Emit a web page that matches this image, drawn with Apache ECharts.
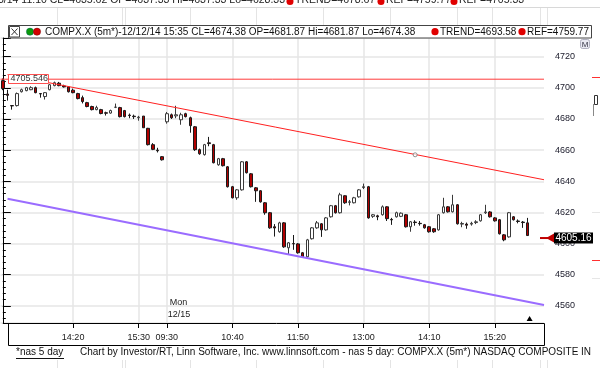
<!DOCTYPE html>
<html><head><meta charset="utf-8">
<script src="https://cdn.jsdelivr.net/npm/echarts@6/dist/echarts.min.js"></script>
<style>html,body{margin:0;padding:0;background:#fff;overflow:hidden}#c{width:600px;height:368px}</style>
</head><body><div id="c"></div>
<script>
// ---------- DATA ----------
const FONT = '"Liberation Sans", Arial, sans-serif';
function sessionTimes(day, h0, m0, h1, m1) {
  const out = [];
  for (let t = h0 * 60 + m0; t <= h1 * 60 + m1; t += 5) {
    const h = Math.floor(t / 60), m = t % 60;
    out.push(day + ' ' + String(h).padStart(2, '0') + ':' + String(m).padStart(2, '0'));
  }
  return out;
}
const day1Times = sessionTimes('12/12', 13, 5, 15, 55);
const day2Times = sessionTimes('12/15', 9, 30, 15, 55);
const padSlots = ['pad1', 'pad2', 'pad3'];
const categories = day1Times.concat(day2Times, padSlots);
const tickLabels = ['12/12 14:20', '12/12 15:30', '12/15 09:30', '12/15 10:40', '12/15 11:50', '12/15 13:00', '12/15 14:10', '12/15 15:20'];
// [open, close, low, high]
const day1Bars = [
  [4704.6, 4699.5, 4698.5, 4706.0], [4696.0, 4695.2, 4691.8, 4698.8], [4688.6, 4688.4, 4686.0, 4688.8],
  [4688.6, 4696.3, 4688.0, 4697.0], [4697.5, 4698.8, 4697.0, 4699.5], [4698.2, 4700.1, 4697.8, 4700.6],
  [4698.8, 4700.1, 4698.5, 4701.0], [4700.1, 4696.9, 4696.5, 4700.8], [4696.3, 4696.1, 4693.7, 4696.5],
  [4694.4, 4696.9, 4692.5, 4697.3], [4698.8, 4702.0, 4698.4, 4702.5], [4701.4, 4703.3, 4701.0, 4704.0],
  [4703.0, 4701.4, 4701.0, 4703.8], [4701.2, 4700.6, 4700.2, 4702.0], [4700.6, 4697.5, 4697.0, 4701.0],
  [4698.5, 4696.9, 4696.5, 4699.5], [4696.3, 4693.1, 4692.6, 4696.8], [4693.7, 4691.2, 4690.0, 4695.0],
  [4690.5, 4688.0, 4687.5, 4691.0], [4688.0, 4686.0, 4685.5, 4688.5], [4686.0, 4687.3, 4685.6, 4688.5],
  [4686.0, 4683.5, 4683.0, 4686.5], [4684.0, 4683.7, 4682.2, 4684.7], [4683.8, 4685.4, 4683.4, 4686.0],
  [4687.5, 4687.6, 4687.0, 4689.9], [4687.3, 4681.5, 4681.0, 4687.8], [4685.4, 4681.5, 4681.0, 4685.8],
  [4682.5, 4682.2, 4680.5, 4683.5], [4681.8, 4681.5, 4680.0, 4682.8], [4680.8, 4681.2, 4678.9, 4682.0],
  [4681.87, 4674.38, 4674.38, 4681.87], [4674.0, 4663.5, 4663.0, 4674.3], [4663.5, 4660.5, 4660.0, 4664.5],
  [4660.0, 4659.6, 4658.5, 4661.5], [4655.8, 4653.8, 4653.3, 4656.2]
];
const day2Bars = [
  [4678.2, 4683.4, 4677.0, 4684.5], [4682.7, 4680.8, 4680.0, 4683.5], [4682.0, 4682.7, 4680.5, 4688.5],
  [4679.5, 4682.7, 4676.3, 4684.0], [4683.4, 4681.5, 4681.0, 4684.0], [4680.8, 4675.7, 4671.2, 4681.5],
  [4675.0, 4660.3, 4659.5, 4675.5], [4660.3, 4657.7, 4657.0, 4661.0], [4657.1, 4663.5, 4656.5, 4664.0],
  [4664.7, 4664.2, 4662.5, 4668.5], [4663.5, 4651.9, 4651.5, 4664.0], [4650.6, 4654.5, 4650.0, 4655.0],
  [4654.5, 4650.0, 4649.5, 4655.0], [4649.3, 4636.5, 4636.0, 4649.8], [4636.5, 4629.4, 4629.0, 4637.0],
  [4629.4, 4634.5, 4628.1, 4635.0], [4634.5, 4652.5, 4634.0, 4653.0], [4652.5, 4645.5, 4645.0, 4653.0],
  [4644.8, 4636.5, 4636.0, 4645.3], [4635.8, 4633.9, 4626.8, 4636.3], [4633.9, 4626.8, 4626.3, 4634.3],
  [4626.2, 4619.8, 4618.5, 4626.7], [4619.8, 4610.1, 4609.5, 4620.3], [4610.8, 4610.0, 4604.5, 4612.5],
  [4607.6, 4613.3, 4607.0, 4614.0], [4613.3, 4597.9, 4597.3, 4613.8], [4597.3, 4600.5, 4592.8, 4601.0],
  [4600.0, 4599.8, 4596.0, 4605.5], [4599.8, 4594.1, 4593.5, 4600.3], [4594.1, 4591.5, 4591.0, 4594.6],
  [4591.5, 4602.4, 4591.0, 4603.0], [4603.1, 4610.1, 4602.6, 4610.6], [4610.1, 4613.3, 4609.5, 4614.5],
  [4612.7, 4608.8, 4604.3, 4613.2], [4608.8, 4616.5, 4608.3, 4617.0], [4617.2, 4624.3, 4616.7, 4624.8],
  [4624.3, 4619.8, 4619.3, 4624.8], [4619.8, 4631.3, 4619.3, 4632.6], [4630.7, 4626.2, 4625.5, 4631.0],
  [4626.5, 4626.8, 4624.5, 4628.0], [4626.2, 4629.4, 4625.8, 4630.0], [4630.0, 4634.5, 4629.5, 4635.0],
  [4636.0, 4636.5, 4635.0, 4638.5], [4636.5, 4616.5, 4616.0, 4637.0], [4617.5, 4618.5, 4616.5, 4619.0],
  [4617.8, 4617.2, 4615.0, 4618.5], [4618.5, 4623.6, 4618.0, 4624.5], [4623.6, 4616.0, 4614.5, 4624.0],
  [4615.5, 4615.2, 4612.0, 4616.5], [4617.2, 4619.8, 4616.7, 4620.5], [4617.5, 4619.5, 4617.0, 4620.0],
  [4618.5, 4610.8, 4610.3, 4619.0], [4610.8, 4614.0, 4607.6, 4614.5], [4613.8, 4613.5, 4611.5, 4615.0],
  [4613.0, 4612.8, 4611.5, 4614.5], [4612.1, 4610.1, 4609.6, 4612.6], [4610.8, 4607.6, 4607.0, 4611.3],
  [4609.5, 4607.6, 4606.9, 4610.0], [4608.8, 4618.5, 4608.3, 4619.0], [4619.8, 4623.6, 4619.3, 4629.4],
  [4623.6, 4620.4, 4619.9, 4624.1], [4620.4, 4624.9, 4620.0, 4631.3], [4624.9, 4612.7, 4612.2, 4625.4],
  [4612.5, 4612.9, 4610.5, 4614.0], [4612.5, 4611.8, 4609.5, 4613.5], [4612.5, 4613.0, 4611.5, 4614.0],
  [4613.5, 4614.0, 4612.5, 4615.0], [4614.6, 4618.5, 4614.1, 4619.0], [4619.8, 4620.3, 4619.0, 4624.9],
  [4620.3, 4617.2, 4616.7, 4620.8], [4616.5, 4614.6, 4614.1, 4617.0], [4615.3, 4606.3, 4605.8, 4615.8],
  [4605.6, 4602.4, 4601.5, 4606.1], [4604.3, 4619.8, 4603.8, 4620.3], [4617.2, 4615.3, 4614.8, 4617.7],
  [4614.5, 4614.2, 4613.0, 4615.5], [4613.8, 4613.5, 4610.1, 4614.5], [4613.3, 4605.16, 4605.0, 4616.5]
];
const bars = day1Bars.concat(day2Bars);
const lastClose = 4605.16;
const refLevel = 4705.546;
// channel lines: [bar index, price]
const trendLine = [[1, 4708.5], [115.5, 4641.0]];
const lowerLine = [[1, 4628.8], [115.5, 4560.5]];
const trendMarker = [[88, 4657.0]];
const yMin = 4549, yMax = 4732;
const headerMain = 'COMPX.X (5m*)-12/12/14 15:35 CL=4674.38 OP=4681.87 Hi=4681.87 Lo=4674.38';
const headerTrend = 'TREND=4693.58';
const headerRef = 'REF=4759.77';
const bgHeader = '3/14 11:10 CL=4635.62 OP=4637.33 Hi=4637.33 Lo=4628.33';
const bgTrend = 'TREND=4678.67', bgRef1 = 'REF=4759.77', bgRef2 = 'REF=4705.33';
const footerLink = '*nas 5 day';
const footerText = 'Chart by Investor/RT, Linn Software, Inc. www.linnsoft.com - nas 5 day: COMPX.X (5m*) NASDAQ COMPOSITE IN';

// ---------- CHART ----------
const chart = echarts.init(document.getElementById('c'), null, { renderer: 'canvas' });
const showTick = (idx, val) => tickLabels.indexOf(val) >= 0;
const GL = 0.5, GR = 544;
const xEnd = categories.length - 0.5;

const option = {
  animation: false,
  backgroundColor: '#fff',
  textStyle: { fontFamily: FONT },
  grid: { left: GL, right: 600 - GR, top: 38, bottom: 368 - 323, containLabel: false },
  xAxis: [{
    type: 'category', data: categories, boundaryGap: true,
    axisLine: { show: false },
    axisTick: { show: true, interval: showTick, alignWithLabel: true, length: 5, lineStyle: { color: '#000' } },
    axisLabel: { interval: showTick, formatter: v => v.slice(6), color: '#1a1a1a', fontSize: 9, fontFamily: FONT, margin: 10 },
    splitLine: { show: false }
  }, {
    type: 'value', min: -0.5, max: xEnd, show: false
  }],
  yAxis: {
    type: 'value', position: 'right', min: yMin, max: yMax, splitNumber: 9, minInterval: 20, maxInterval: 20,
    axisLine: { show: true, lineStyle: { color: '#000', width: 1 } },
    axisTick: { show: true, length: 8, lineStyle: { color: '#000' } },
    minorTick: { show: true, splitNumber: 5, length: 3, lineStyle: { color: '#000' } },
    axisLabel: { color: '#1a1a2a', fontSize: 9, fontFamily: FONT, margin: 11, showMinLabel: false, showMaxLabel: false,
      formatter: v => (Math.abs(v % 20) < 1e-6 ? String(v) : '') },
    splitLine: { show: true, lineStyle: { color: '#e6e6e6', width: 1.5 } }
  },
  series: [{
    type: 'candlestick', name: 'COMPX.X', data: bars, xAxisIndex: 0, yAxisIndex: 0, z: 3,
    barWidth: 3,
    itemStyle: { color: '#ffffff', color0: '#b00000', borderColor: '#3a3a3a', borderColor0: '#1a1a1a', borderWidth: 1 },
    markLine: {
      silent: true, symbol: 'none', z: 1, animation: false,
      label: { show: false },
      lineStyle: { color: '#e6e6e6', width: 1.5, type: 'solid' },
      data: tickLabels.map(t => ({ xAxis: t }))
    }
  }, {
    type: 'line', name: 'REF', xAxisIndex: 1, yAxisIndex: 0, z: 4, showSymbol: false,
    data: [[-0.5, refLevel], [xEnd, refLevel]],
    lineStyle: { color: '#ff3a3a', width: 1 }
  }, {
    type: 'line', name: 'TREND', xAxisIndex: 1, yAxisIndex: 0, z: 4, data: trendLine, showSymbol: false,
    lineStyle: { color: '#ff2020', width: 1 }
  }, {
    type: 'line', name: 'LOWER', xAxisIndex: 1, yAxisIndex: 0, z: 4, data: lowerLine, showSymbol: false,
    lineStyle: { color: '#9a6cff', width: 2 }
  }, {
    type: 'scatter', name: 'marker', xAxisIndex: 1, yAxisIndex: 0, z: 5, data: trendMarker, symbol: 'circle', symbolSize: 4,
    itemStyle: { color: '#ffffff', borderColor: '#777', borderWidth: 1 }
  }]
};
chart.setOption(option);

// ---------- DECORATIONS ----------
const g = [];
const F = (s) => s + 'px ' + FONT;
// background window strip above / below
const bgV = [57, 122, 125, 190, 256, 323, 390, 457, 492, 540, 547];
bgV.forEach(x => {
  g.push({ type: 'line', shape: { x1: x + 0.5, y1: 7, x2: x + 0.5, y2: 25 }, style: { stroke: '#e4e4e4', lineWidth: 1 }, silent: true });
  g.push({ type: 'line', shape: { x1: x + 0.5, y1: 360, x2: x + 0.5, y2: 368 }, style: { stroke: '#e4e4e4', lineWidth: 1 }, silent: true });
});
g.push({ type: 'line', shape: { x1: 0, y1: 7.5, x2: 600, y2: 7.5 }, style: { stroke: '#d8d8d8', lineWidth: 1 } });
g.push({ type: 'text', x: -2, y: 5.5, style: { text: bgHeader, font: F(10.5), fill: '#222', verticalAlign: 'bottom' } });
[[290, bgTrend, 295], [381, bgRef1, 386], [454, bgRef2, 459]].forEach(([dx, t, tx]) => {
  g.push({ type: 'circle', shape: { cx: dx, cy: 1.5, r: 3.5 }, style: { fill: '#e00000' } });
  g.push({ type: 'text', x: tx, y: 5.5, style: { text: t, font: F(10.5), fill: '#222', verticalAlign: 'bottom' } });
});
// title box
g.push({ type: 'rect', shape: { x: 8.5, y: 25.5, width: 583, height: 12.5 }, style: { fill: '#fff', stroke: '#444', lineWidth: 1 }, z: 10 });
g.push({ type: 'rect', shape: { x: 9.5, y: 26.5, width: 10, height: 10.5 }, style: { fill: '#fff', stroke: '#444', lineWidth: 1 }, z: 11 });
g.push({ type: 'line', shape: { x1: 11.5, y1: 28.5, x2: 17.5, y2: 35 }, style: { stroke: '#333', lineWidth: 1 }, z: 11 });
g.push({ type: 'line', shape: { x1: 17.5, y1: 28.5, x2: 11.5, y2: 35 }, style: { stroke: '#333', lineWidth: 1 }, z: 11 });
g.push({ type: 'circle', shape: { cx: 30, cy: 31.7, r: 3.6 }, style: { fill: '#0a9a0a', stroke: '#065', lineWidth: 0.5 }, z: 11 });
g.push({ type: 'circle', shape: { cx: 37, cy: 31.7, r: 3.6 }, style: { fill: '#d40000', stroke: '#700', lineWidth: 0.5 }, z: 11 });
g.push({ type: 'text', x: 45, y: 32, style: { text: headerMain, font: F(10), fill: '#111', verticalAlign: 'middle' }, z: 11 });
g.push({ type: 'circle', shape: { cx: 435, cy: 31.7, r: 3.6 }, style: { fill: '#e00000' }, z: 11 });
g.push({ type: 'text', x: 440, y: 32, style: { text: headerTrend, font: F(10), fill: '#111', verticalAlign: 'middle' }, z: 11 });
g.push({ type: 'circle', shape: { cx: 522, cy: 31.7, r: 3.6 }, style: { fill: '#e00000' }, z: 11 });
g.push({ type: 'text', x: 527, y: 32, style: { text: headerRef, font: F(10), fill: '#111', verticalAlign: 'middle' }, z: 11 });
// x-axis box
g.push({ type: 'rect', shape: { x: 8.5, y: 323.5, width: 536, height: 22 }, style: { fill: 'none', stroke: '#000', lineWidth: 1 }, z: 9 });
// footer
g.push({ type: 'text', x: 16, y: 352.5, style: { text: footerLink, font: F(10), fill: '#111', verticalAlign: 'middle' } });
g.push({ type: 'line', shape: { x1: 16, y1: 358.5, x2: 64, y2: 358.5 }, style: { stroke: '#111', lineWidth: 1 } });
g.push({ type: 'text', x: 80, y: 352.5, style: { text: footerText, font: F(10), fill: '#111', verticalAlign: 'middle' } });
// right-hand neighbour window fragments
g.push({ type: 'rect', shape: { x: 592, y: 38, width: 8, height: 330 }, style: { fill: '#fff' }, z: 8 });
g.push({ type: 'rect', shape: { x: 580.5, y: 39.5, width: 9, height: 9, r: 2 }, style: { fill: '#e9e9f2', stroke: '#b0b0c0', lineWidth: 1 }, z: 9 });
g.push({ type: 'text', x: 585, y: 44.5, style: { text: 'M', font: F(8), fill: '#334', align: 'center', verticalAlign: 'middle' }, z: 10 });
g.push({ type: 'line', shape: { x1: 592, y1: 77.5, x2: 600, y2: 77.5 }, style: { stroke: '#ff3030', lineWidth: 1 }, z: 9 });
g.push({ type: 'line', shape: { x1: 592, y1: 260.5, x2: 600, y2: 260.5 }, style: { stroke: '#ff3030', lineWidth: 1 }, z: 9 });
g.push({ type: 'line', shape: { x1: 592, y1: 212.5, x2: 600, y2: 212.5 }, style: { stroke: '#e6e6e6', lineWidth: 1 }, z: 9 });
g.push({ type: 'line', shape: { x1: 592, y1: 278.5, x2: 600, y2: 278.5 }, style: { stroke: '#e6e6e6', lineWidth: 1 }, z: 9 });
g.push({ type: 'line', shape: { x1: 593.5, y1: 104, x2: 593.5, y2: 116 }, style: { stroke: '#888', lineWidth: 1 }, z: 9 });
g.push({ type: 'rect', shape: { x: 594.5, y: 95.5, width: 3, height: 9 }, style: { fill: '#fff', stroke: '#333', lineWidth: 1 }, z: 9 });

// data-driven labels via the library's scales
const refY = chart.convertToPixel({ yAxisIndex: 0 }, refLevel);
g.push({ type: 'rect', shape: { x: 8.5, y: Math.round(refY) - 4.5, width: 40, height: 9 }, style: { fill: '#fff', stroke: '#ff5050', lineWidth: 1 }, z: 12 });
g.push({ type: 'text', x: 10.5, y: Math.round(refY), style: { text: refLevel.toFixed(3), font: F(9), fill: '#333', verticalAlign: 'middle' }, z: 13 });
const lastY = chart.convertToPixel({ yAxisIndex: 0 }, lastClose) + 2.5;
g.push({ type: 'line', shape: { x1: 540, y1: lastY, x2: 548, y2: lastY }, style: { stroke: '#c00000', lineWidth: 2 }, z: 12 });
g.push({ type: 'polygon', shape: { points: [[546, lastY], [555, lastY - 5], [555, lastY + 5]] }, style: { fill: '#c00000' }, z: 12 });
g.push({ type: 'rect', shape: { x: 554, y: lastY - 5.5, width: 39, height: 11 }, style: { fill: '#000' }, z: 12 });
g.push({ type: 'text', x: 573.5, y: lastY, style: { text: lastClose.toFixed(2), font: F(10), fill: '#fff', align: 'center', verticalAlign: 'middle' }, z: 13 });
const xMon = chart.convertToPixel({ xAxisIndex: 0 }, '12/15 09:30');
g.push({ type: 'text', x: xMon + 3, y: 303, style: { text: 'Mon', font: F(9), fill: '#222', verticalAlign: 'middle' }, z: 6 });
g.push({ type: 'text', x: xMon + 1, y: 315, style: { text: '12/15', font: F(9), fill: '#222', verticalAlign: 'middle' }, z: 6 });
const xLast = chart.convertToPixel({ xAxisIndex: 0 }, categories[bars.length - 1]);
g.push({ type: 'polygon', shape: { points: [[xLast + 2, 316], [xLast - 1, 321], [xLast + 5, 321]] }, style: { fill: '#000' }, z: 6 });

chart.setOption({ graphic: g });
</script></body></html>
